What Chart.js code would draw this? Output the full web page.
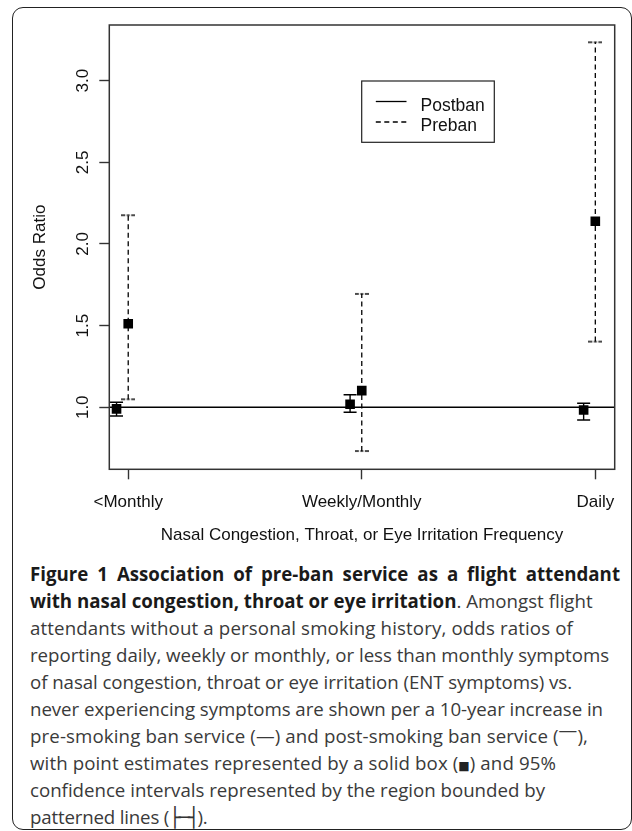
<!DOCTYPE html>
<html>
<head>
<meta charset="utf-8">
<script src="https://cdn.jsdelivr.net/npm/chart.js@4.4.1/dist/chart.umd.min.js"></script>
<style>
  html, body { margin:0; padding:0; background:#fff; width:632px; height:831px; overflow:hidden; }
  #frame { position:absolute; left:12px; top:6.5px; width:619.5px; height:823.5px; box-sizing:border-box;
           border:1.5px solid #222; border-radius:11px; }
  #wrap { position:absolute; left:0; top:0; width:632px; height:560px; }
  #cap { position:absolute; left:30px; top:559.5px; font-family:'Open Sans', 'Noto Sans', sans-serif;
         font-size:18.7px; line-height:27px; color:#3a3a3a; }
  #cap .ln { display:block; width:max-content; white-space:nowrap; height:27px; }
  #cap b { color:#1a1a1a; font-weight:700; }
  .raised { position:relative; top:-0.3em; line-height:1; }
  .box { font-family:'DejaVu Sans'; font-size:12px; color:#222; line-height:1; }
  .bar { font-family:'DejaVu Sans'; font-size:19px; color:#333; letter-spacing:-2px; line-height:1; }
</style>
</head>
<body>
<div id="frame"></div>
<div id="wrap"><canvas id="c" width="632" height="560"></canvas></div>
<div id="cap">
  <span class="ln" data-ws="590"><b>Figure 1 Association of pre-ban service as a flight attendant</b></span>
  <span class="ln"><b>with nasal congestion, throat or eye irritation</b>. Amongst flight</span>
  <span class="ln" data-w="543">attendants without a personal smoking history, odds ratios of</span>
  <span class="ln" data-w="579">reporting daily, weekly or monthly, or less than monthly symptoms</span>
  <span class="ln" data-w="542">of nasal congestion, throat or eye irritation (ENT symptoms) vs.</span>
  <span class="ln" data-w="573">never experiencing symptoms are shown per a 10-year increase in</span>
  <span class="ln" data-w="558">pre-smoking ban service (—) and post-smoking ban service (<span class="raised">—</span>),</span>
  <span class="ln" data-w="526">with point estimates represented by a solid box (<span class="box">■</span>) and 95%</span>
  <span class="ln" data-w="515">confidence intervals represented by the region bounded by</span>
  <span class="ln" data-w="177">patterned lines (<span class="bar">├─┤</span>).</span>
</div>
<script>
// ---------------- data ----------------
const categories = ['<Monthly', 'Weekly/Monthly', 'Daily'];
const categoryPos = [1, 2, 3];
const seriesNames = ['Postban', 'Preban'];
const postbanOR   = [0.990, 1.018, 0.983];
const postbanLow  = [0.947, 0.969, 0.922];
const postbanHigh = [1.031, 1.077, 1.024];
const prebanOR    = [1.511, 1.102, 2.139];
const prebanLow   = [1.049, 0.732, 1.402];
const prebanHigh  = [2.176, 1.694, 3.235];
const referenceOR = 1.0;
const yTickValues = [1.0, 1.5, 2.0, 2.5, 3.0];
const yTickLabels = ['1.0', '1.5', '2.0', '2.5', '3.0'];
const xTitle = 'Nasal Congestion, Throat, or Eye Irritation Frequency';
const yTitle = 'Odds Ratio';

// ---------------- layout / style ----------------
const POST_OFFSET = -0.05;
const X_MIN = 0.919, X_MAX = 3.083;
const Y_MIN = 0.620, Y_MAX = 3.341;
const FONT = '"Liberation Sans", Arial, sans-serif';
const INK = '#111';
const DASH = [5, 3.5];

// dashed cap image for the preban intervals
function makeDashedCap() {
  const cv = document.createElement('canvas');
  cv.width = 14; cv.height = 4;
  const g = cv.getContext('2d');
  g.fillStyle = '#000';
  [[0, 4], [5.5, 8.5], [10, 14]].forEach(([a, b]) => g.fillRect(a, 1.3, b - a, 1.4));
  return cv;
}
const dashedCap = makeDashedCap();

const datasets = [];
// point estimates (drawn on top -> first)
datasets.push({
  label: seriesNames[0],
  data: categoryPos.map((p, i) => ({ x: p + POST_OFFSET, y: postbanOR[i] })),
  showLine: false, pointStyle: 'rect', pointRadius: 6.8, pointBorderWidth: 0,
  pointBackgroundColor: '#000'
});
datasets.push({
  label: seriesNames[1],
  data: categoryPos.map((p, i) => ({ x: p, y: prebanOR[i] })),
  showLine: false, pointStyle: 'rect', pointRadius: 6.8, pointBorderWidth: 0,
  pointBackgroundColor: '#000'
});
// confidence intervals
categoryPos.forEach((p, i) => {
  datasets.push({
    label: seriesNames[0] + ' CI',
    data: [{ x: p + POST_OFFSET, y: postbanLow[i] }, { x: p + POST_OFFSET, y: postbanHigh[i] }],
    showLine: true, borderColor: '#000', borderWidth: 1.4,
    pointStyle: 'line', pointRadius: 6.5, pointBorderWidth: 1.5, pointBorderColor: '#000'
  });
  datasets.push({
    label: seriesNames[1] + ' CI',
    data: [{ x: p, y: prebanLow[i] }, { x: p, y: prebanHigh[i] }],
    showLine: true, borderColor: '#000', borderWidth: 1.3, borderDash: DASH,
    pointStyle: dashedCap, pointRadius: 7
  });
});
// reference line at OR = 1
datasets.push({
  label: 'reference',
  data: [{ x: X_MIN, y: referenceOR }, { x: X_MAX, y: referenceOR }],
  showLine: true, borderColor: '#000', borderWidth: 1.5, pointRadius: 0
});

const boxPlugin = {
  id: 'rbox',
  afterDraw(chart) {
    const { ctx, chartArea: a } = chart;
    ctx.save();
    ctx.strokeStyle = '#333'; ctx.lineWidth = 1.5;
    ctx.strokeRect(a.left, a.top, a.right - a.left, a.bottom - a.top);
    ctx.restore();
  }
};

const yLabelPlugin = {
  id: 'ylabels',
  afterDraw(chart) {
    const ys = chart.scales.y, ctx = chart.ctx;
    ctx.save();
    ctx.font = '17px ' + FONT;
    ctx.fillStyle = INK; ctx.textAlign = 'center'; ctx.textBaseline = 'alphabetic';
    yTickValues.forEach((v, i) => {
      const py = ys.getPixelForValue(v);
      ctx.save();
      ctx.translate(ys.right - 21, py);
      ctx.rotate(-Math.PI / 2);
      ctx.fillText(yTickLabels[i], 0, 0);
      ctx.restore();
    });
    ctx.restore();
  }
};

const legendPlugin = {
  id: 'rlegend',
  afterDraw(chart) {
    const ctx = chart.ctx;
    ctx.save();
    ctx.strokeStyle = '#222'; ctx.lineWidth = 1.2;
    ctx.strokeRect(361.7, 81, 132.6, 61.3);
    const rows = [{ y: 101.5, ty: 110.8, dash: [] }, { y: 122, ty: 130.8, dash: DASH }];
    rows.forEach((r, i) => {
      ctx.beginPath();
      ctx.setLineDash(r.dash);
      ctx.strokeStyle = '#000'; ctx.lineWidth = 1.3;
      ctx.moveTo(375.8, r.y); ctx.lineTo(406.5, r.y); ctx.stroke();
      ctx.setLineDash([]);
      ctx.font = '17.5px ' + FONT; ctx.fillStyle = INK;
      ctx.textAlign = 'left'; ctx.textBaseline = 'alphabetic';
      ctx.fillText(seriesNames[i], 420.6, r.ty);
    });
    ctx.restore();
  }
};

new Chart(document.getElementById('c'), {
  type: 'scatter',
  data: { datasets },
  plugins: [boxPlugin, yLabelPlugin, legendPlugin],
  options: {
    responsive: false,
    animation: false,
    events: [],
    layout: { padding: { top: 25, right: 17.3, left: 0, bottom: 0 } },
    plugins: { legend: { display: false }, tooltip: { enabled: false } },
    scales: {
      x: {
        type: 'linear', min: X_MIN, max: X_MAX,
        afterBuildTicks: s => { s.ticks = categoryPos.map(v => ({ value: v })); },
        afterFit: s => { s.height = 90.7; },
        ticks: {
          autoSkip: false, maxRotation: 0, minRotation: 0, padding: 12.5,
          color: INK, font: { family: FONT, size: 17 },
          callback: v => categories[categoryPos.indexOf(v)]
        },
        grid: { drawOnChartArea: false, drawTicks: true, tickLength: 10, tickColor: '#333', tickWidth: 1.4 },
        border: { display: false },
        title: { display: true, text: xTitle, color: INK, font: { family: FONT, size: 17 },
                 padding: { top: 0, bottom: 14 } }
      },
      y: {
        type: 'linear', min: Y_MIN, max: Y_MAX,
        afterBuildTicks: s => { s.ticks = yTickValues.map(v => ({ value: v })); },
        afterFit: s => { s.width = 109.3; },
        ticks: { display: false },
        grid: { drawOnChartArea: false, drawTicks: true, tickLength: 10, tickColor: '#333', tickWidth: 1.4 },
        border: { display: false },
        title: { display: true, text: yTitle, color: INK, font: { family: FONT, size: 17 },
                 padding: { top: 29.8, bottom: 0 } }
      }
    }
  }
});

// gently fit caption lines to the reference line widths
function fitCaption() {
  document.querySelectorAll('#cap .ln[data-w]').forEach(el => {
    el.style.letterSpacing = '0px';
    const w = el.getBoundingClientRect().width;
    const n = el.textContent.length;
    let ls = (+el.dataset.w - w) / n;
    ls = Math.max(-0.4, Math.min(0.4, ls));
    el.style.letterSpacing = ls.toFixed(3) + 'px';
  });
  // justified first line: widen word gaps
  document.querySelectorAll('#cap .ln[data-ws]').forEach(el => {
    el.style.wordSpacing = '0px';
    const w = el.getBoundingClientRect().width;
    const gaps = (el.textContent.trim().match(/ /g) || []).length;
    const ws = Math.max(0, Math.min(6, (+el.dataset.ws - w) / gaps));
    el.style.wordSpacing = ws.toFixed(3) + 'px';
  });
}
fitCaption();
if (document.fonts && document.fonts.ready) document.fonts.ready.then(fitCaption);
</script>
</body>
</html>
